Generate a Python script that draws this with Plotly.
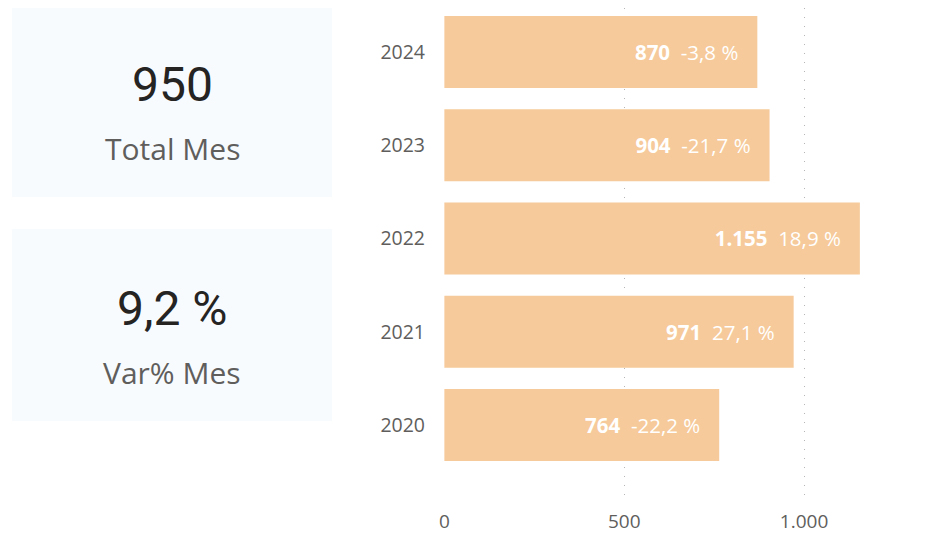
import plotly.graph_objects as go

years = ["2020", "2021", "2022", "2023", "2024"]
values = [764, 971, 1155, 904, 870]
value_labels = ["764", "971", "1.155", "904", "870"]
var_labels = ["-22,2 %", "27,1 %", "18,9 %", "-21,7 %", "-3,8 %"]
x_ticks = [0, 500, 1000]
x_tick_labels = ["0", "500", "1.000"]

kpi_values = ["950", "9,2 %"]
kpi_names = ["Total Mes", "Var% Mes"]

# page offset of 8px (body margin) is compensated: screen coord s -> figure coord s-8
OFF = 8
W, H = 947 - OFF, 534 - OFF
BAR_COLOR = "#F6CA9A"
GREY = "#605E5C"
FONT = "Open Sans"

texts = [f"<b>{v}</b>\u00a0\u00a0{p}\u00a0\u00a0\u00a0" for v, p in zip(value_labels, var_labels)]

fig = go.Figure(go.Bar(
    y=years, x=values, orientation="h",
    marker=dict(color=BAR_COLOR, line=dict(width=0)),
    text=texts, textposition="inside", insidetextanchor="end",
    textfont=dict(color="white", size=20.5, family=FONT),
    hoverinfo="skip", cliponaxis=False,
))

def px(x):
    return (x - OFF) / W

def py(y):
    return 1 - (y - OFF) / H

shapes = []
annotations = []
cards = [(5, 197), (229, 421)]
num_y = [85, 308]
name_y = [148, 372]
for i, (top, bot) in enumerate(cards):
    shapes.append(dict(type="rect", xref="paper", yref="paper",
                       x0=px(12), x1=px(332), y0=py(bot), y1=py(top),
                       fillcolor="#F8FBFE", line=dict(width=0), layer="below"))
    annotations.append(dict(xref="paper", yref="paper", x=px(172), y=py(num_y[i]),
                            text=kpi_values[i], showarrow=False,
                            xanchor="center", yanchor="middle",
                            font=dict(family="Roboto", size=48, color="#252423")))
    annotations.append(dict(xref="paper", yref="paper", x=px(172), y=py(name_y[i]),
                            text=kpi_names[i], showarrow=False,
                            xanchor="center", yanchor="middle",
                            font=dict(family=FONT, size=30, color=GREY)))

plot_left, plot_right = 444, 930
plot_top, plot_bottom = 0, 500

fig.update_layout(
    width=W, height=H,
    margin=dict(l=0, r=0, t=0, b=0),
    paper_bgcolor="white", plot_bgcolor="white",
    showlegend=False,
    bargap=0.227,
    shapes=shapes, annotations=annotations,
    font=dict(family=FONT, color=GREY),
    uniformtext=dict(minsize=19, mode="show"),
    xaxis=dict(domain=[px(plot_left), px(plot_right)], range=[-1, 1350],
               tickvals=x_ticks, ticktext=x_tick_labels,
               showgrid=True, gridcolor="#B8B6B4", griddash="1px,8px", gridwidth=1,
               zeroline=False, showline=False, ticks="",
               tickfont=dict(size=19, color=GREY, family=FONT),
               ticklabelstandoff=8, automargin=False, fixedrange=True),
    yaxis=dict(domain=[py(plot_bottom), 1], type="category", range=[-0.805, 4.558 - OFF / 93.2],
               showgrid=False, zeroline=False, showline=False, ticks="",
               tickfont=dict(size=19.5, color=GREY, family=FONT),
               ticklabelstandoff=18, automargin=False, fixedrange=True),
)

fig.write_html("out.html", config={"displayModeBar": False})
